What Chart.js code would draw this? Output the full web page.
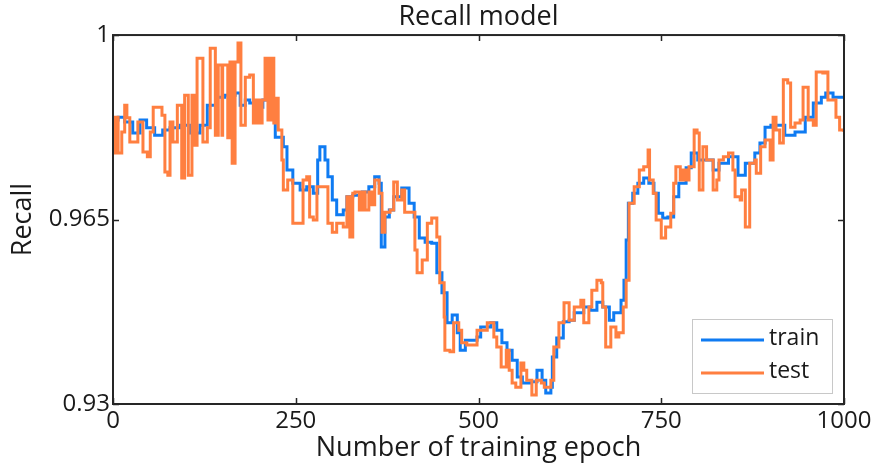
<!DOCTYPE html>
<html>
<head>
<meta charset="utf-8">
<title>Recall model</title>
<script src="https://cdn.jsdelivr.net/npm/chart.js@4.4.1/dist/chart.umd.min.js"></script>
<style>
  html, body { margin: 0; padding: 0; background: #fff; }
  #wrap { width: 880px; height: 468px; }
</style>
</head>
<body>
<div id="wrap"><canvas id="recallChart" width="880" height="468"></canvas></div>
<script>
// recall per epoch, sampled where the curve changes
const trainEpochs = [0, 7, 16, 27, 37, 46, 57, 68, 78, 92, 105, 119, 129, 142, 153, 167, 174, 181, 187, 197,
  205, 219, 222, 233, 238, 246, 256, 265, 274, 280, 283, 290, 294, 300, 306, 315, 320, 328, 341, 350,
  358, 364, 367, 372, 378, 384, 395, 405, 412, 419, 427, 436, 443, 450, 457, 464, 471, 475, 482, 498,
  503, 517, 525, 532, 539, 546, 553, 560, 572, 580, 587, 592, 599, 601, 607, 616, 624, 631, 644, 653,
  662, 670, 679, 685, 695, 699, 702, 705, 711, 718, 726, 733, 740, 746, 752, 759, 767, 774, 784, 791,
  800, 808, 821, 829, 842, 855, 865, 878, 885, 892, 900, 919, 933, 947, 958, 969, 975, 985, 1000];
const trainRecall = [0.9839, 0.9844, 0.9835, 0.9814, 0.9839, 0.9824, 0.9810, 0.9820, 0.9824, 0.9829, 0.9814, 0.9829, 0.9867, 0.9882, 0.9886, 0.9890, 0.9867, 0.9877, 0.9871, 0.9863,
  0.9877, 0.9877, 0.9806, 0.9788, 0.9744, 0.9719, 0.9706, 0.9712, 0.9700, 0.9763, 0.9788, 0.9763, 0.9731, 0.9687, 0.9659, 0.9668, 0.9693, 0.9696, 0.9702, 0.9712,
  0.9731, 0.9719, 0.9598, 0.9655, 0.9668, 0.9693, 0.9710, 0.9681, 0.9655, 0.9615, 0.9607, 0.9605, 0.9549, 0.9511, 0.9454, 0.9469, 0.9435, 0.9402, 0.9421, 0.9427,
  0.9446, 0.9454, 0.9440, 0.9416, 0.9402, 0.9383, 0.9351, 0.9340, 0.9342, 0.9364, 0.9345, 0.9321, 0.9332, 0.9389, 0.9425, 0.9456, 0.9459, 0.9473, 0.9484, 0.9478,
  0.9493, 0.9484, 0.9459, 0.9473, 0.9497, 0.9535, 0.9611, 0.9681, 0.9700, 0.9719, 0.9729, 0.9719, 0.9700, 0.9662, 0.9653, 0.9655, 0.9693, 0.9719, 0.9748, 0.9776,
  0.9763, 0.9763, 0.9744, 0.9757, 0.9769, 0.9734, 0.9757, 0.9776, 0.9795, 0.9825, 0.9829, 0.9810, 0.9816, 0.9844, 0.9871, 0.9882, 0.9890, 0.9882, 0.9882];

const testEpochs = [0, 3, 7, 12, 16, 19, 23, 30, 34, 41, 47, 51, 55, 62, 67, 71, 75, 78, 82, 88,
  92, 94, 98, 103, 108, 112, 115, 122, 123, 129, 133, 137, 140, 144, 149, 150, 157, 160, 163, 167,
  171, 175, 181, 187, 192, 196, 200, 204, 208, 212, 216, 220, 223, 226, 231, 233, 239, 246, 256, 260,
  265, 269, 274, 279, 287, 294, 300, 306, 315, 320, 324, 328, 331, 337, 341, 345, 350, 354, 358, 364,
  368, 372, 379, 384, 389, 395, 399, 406, 413, 416, 423, 430, 436, 443, 447, 453, 454, 461, 466, 473,
  477, 484, 498, 512, 521, 525, 531, 538, 542, 546, 551, 558, 562, 566, 573, 579, 586, 590, 599, 603,
  610, 617, 624, 631, 640, 644, 651, 655, 662, 668, 670, 674, 681, 688, 692, 698, 702, 706, 713, 720,
  726, 732, 734, 739, 743, 750, 756, 763, 767, 770, 776, 780, 784, 788, 795, 799, 802, 807, 812, 818,
  821, 826, 829, 835, 842, 848, 851, 858, 860, 865, 869, 871, 878, 880, 884, 886, 892, 899, 903, 907,
  912, 917, 923, 927, 933, 940, 944, 948, 951, 958, 962, 971, 975, 978, 985, 989, 994, 1000];
const testRecall = [0.9776, 0.9844, 0.9776, 0.9816, 0.9867, 0.9843, 0.9797, 0.9797, 0.9835, 0.9778, 0.9769, 0.9816, 0.9863, 0.9863, 0.9848, 0.9740, 0.9734, 0.9835, 0.9797, 0.9867,
  0.9867, 0.9729, 0.9886, 0.9734, 0.9886, 0.9791, 0.9956, 0.9956, 0.9797, 0.9824, 0.9975, 0.9975, 0.9810, 0.9943, 0.9810, 0.9943, 0.9805, 0.9949, 0.9757, 0.9949,
  0.9985, 0.9829, 0.9920, 0.9924, 0.9833, 0.9877, 0.9833, 0.9877, 0.9956, 0.9839, 0.9956, 0.9833, 0.9880, 0.9820, 0.9763, 0.9706, 0.9725, 0.9643, 0.9643, 0.9725,
  0.9731, 0.9655, 0.9649, 0.9712, 0.9712, 0.9643, 0.9626, 0.9643, 0.9636, 0.9693, 0.9617, 0.9700, 0.9702, 0.9668, 0.9702, 0.9668, 0.9702, 0.9678, 0.9725, 0.9700,
  0.9626, 0.9664, 0.9668, 0.9721, 0.9687, 0.9706, 0.9664, 0.9664, 0.9592, 0.9549, 0.9573, 0.9643, 0.9653, 0.9617, 0.9530, 0.9465, 0.9402, 0.9399, 0.9454, 0.9440,
  0.9416, 0.9412, 0.9440, 0.9454, 0.9427, 0.9408, 0.9370, 0.9402, 0.9364, 0.9340, 0.9332, 0.9378, 0.9364, 0.9345, 0.9317, 0.9345, 0.9340, 0.9332, 0.9345, 0.9408,
  0.9454, 0.9492, 0.9459, 0.9484, 0.9497, 0.9454, 0.9484, 0.9516, 0.9535, 0.9530, 0.9484, 0.9408, 0.9446, 0.9427, 0.9435, 0.9484, 0.9535, 0.9681, 0.9712, 0.9744,
  0.9750, 0.9782, 0.9725, 0.9700, 0.9649, 0.9615, 0.9636, 0.9662, 0.9719, 0.9750, 0.9725, 0.9744, 0.9725, 0.9750, 0.9820, 0.9814, 0.9706, 0.9788, 0.9763, 0.9763,
  0.9706, 0.9725, 0.9763, 0.9769, 0.9776, 0.9744, 0.9693, 0.9687, 0.9706, 0.9636, 0.9636, 0.9757, 0.9763, 0.9738, 0.9738, 0.9788, 0.9801, 0.9763, 0.9844, 0.9820,
  0.9795, 0.9915, 0.9909, 0.9825, 0.9833, 0.9839, 0.9901, 0.9901, 0.9839, 0.9829, 0.9930, 0.9928, 0.9930, 0.9877, 0.9877, 0.9844, 0.9820, 0.9816];

const xTicks = [0, 250, 500, 750, 1000];
const yTicks = [0.93, 0.965, 1];

const FONT = "'Open Sans', 'DejaVu Sans', sans-serif";
const AXIS_COLOR = '#262626';

function toPoints(xs, ys) {
  return xs.map((x, i) => ({ x: x, y: ys[i] }));
}

// box around the plot with inward tick marks on all four sides
const frameBox = {
  id: 'frameBox',
  afterDatasetsDraw(chart) {
    const { ctx, chartArea: a, scales } = chart;
    ctx.save();
    ctx.strokeStyle = AXIS_COLOR;
    ctx.lineWidth = 2;
    ctx.strokeRect(a.left, a.top, a.right - a.left, a.bottom - a.top);
    ctx.lineWidth = 1.5;
    ctx.beginPath();
    xTicks.forEach(v => {
      const px = Math.round(scales.x.getPixelForValue(v)) + 0.5;
      ctx.moveTo(px, a.bottom); ctx.lineTo(px, a.bottom - 6);
      ctx.moveTo(px, a.top); ctx.lineTo(px, a.top + 6);
    });
    yTicks.forEach(v => {
      const py = Math.round(scales.y.getPixelForValue(v)) + 0.5;
      ctx.moveTo(a.left, py); ctx.lineTo(a.left + 6, py);
      ctx.moveTo(a.right, py); ctx.lineTo(a.right - 6, py);
    });
    ctx.stroke();
    ctx.restore();
  }
};

// legend box in the lower right corner of the plot
const cornerLegend = {
  id: 'cornerLegend',
  afterDraw(chart) {
    const { ctx, chartArea: a } = chart;
    const w = 140, h = 74;
    const x0 = a.right - 12 - w, y0 = a.bottom - 11 - h;
    ctx.save();
    ctx.fillStyle = '#fff';
    ctx.fillRect(x0, y0, w, h);
    ctx.strokeStyle = '#c8c8c8';
    ctx.lineWidth = 1;
    ctx.strokeRect(x0 + 0.5, y0 + 0.5, w, h);
    ctx.font = '23px ' + FONT;
    ctx.textBaseline = 'middle';
    chart.data.datasets.forEach((ds, i) => {
      const ly = y0 + 21 + i * 33;
      ctx.strokeStyle = ds.borderColor;
      ctx.lineWidth = 3;
      ctx.beginPath();
      ctx.moveTo(x0 + 9, ly);
      ctx.lineTo(x0 + 72, ly);
      ctx.stroke();
      ctx.fillStyle = '#1a1a1a';
      ctx.fillText(ds.label, x0 + 77, ly - 2);
    });
    ctx.restore();
  }
};

new Chart(document.getElementById('recallChart'), {
  type: 'line',
  data: {
    datasets: [{
      label: 'train',
      data: toPoints(trainEpochs, trainRecall),
      borderColor: '#0f7bf2',
      borderWidth: 3,
      pointRadius: 0,
      stepped: true,
      order: 1
    }, {
      label: 'test',
      data: toPoints(testEpochs, testRecall),
      borderColor: '#ff7f40',
      borderWidth: 3,
      pointRadius: 0,
      stepped: true,
      order: 0
    }]
  },
  options: {
    responsive: false,
    animation: false,
    layout: { padding: { left: 0, right: 36, top: 0, bottom: 0 } },
    plugins: {
      legend: { display: false },
      tooltip: { enabled: false },
      title: {
        display: true,
        text: 'Recall model',
        fullSize: false,
        color: '#1a1a1a',
        font: { family: FONT, size: 27, weight: 'normal', lineHeight: 1.15 },
        padding: { top: 2, bottom: 2 }
      }
    },
    scales: {
      x: {
        type: 'linear',
        min: 0,
        max: 1000,
        grid: { display: false, drawTicks: false },
        border: { display: false },
        afterBuildTicks: s => { s.ticks = xTicks.map(v => ({ value: v })); },
        afterFit: s => { s.height = 64; },
        ticks: {
          color: '#1a1a1a',
          padding: 3,
          maxRotation: 0,
          font: { family: FONT, size: 24 },
          callback: v => String(v)
        },
        title: {
          display: true,
          text: 'Number of training epoch',
          color: '#1a1a1a',
          font: { family: FONT, size: 27, lineHeight: 1.2 },
          padding: { top: 0, bottom: 3 }
        }
      },
      y: {
        min: 0.93,
        max: 1,
        grid: { display: false, drawTicks: false },
        border: { display: false },
        afterBuildTicks: s => { s.ticks = yTicks.map(v => ({ value: v })); },
        afterFit: s => { s.width = 113; },
        ticks: {
          color: '#1a1a1a',
          padding: 3,
          font: { family: FONT, size: 24 },
          callback: v => String(v)
        },
        title: {
          display: true,
          text: 'Recall',
          color: '#1a1a1a',
          font: { family: FONT, size: 27, lineHeight: 1.2 },
          padding: { top: 7, bottom: 0 }
        }
      }
    }
  },
  plugins: [frameBox, cornerLegend]
});
</script>
</body>
</html>
